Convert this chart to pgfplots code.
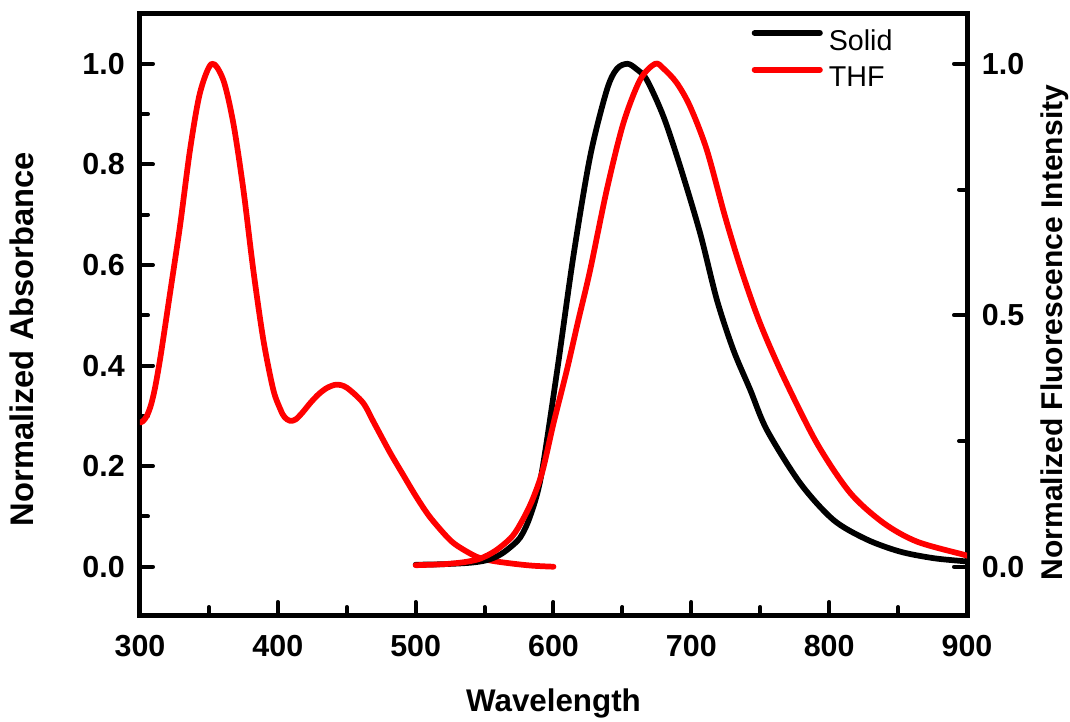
\documentclass[border=0pt]{standalone}
\usepackage{fontspec}
\setmainfont{Liberation Sans}
\usepackage{pgfplots}
\pgfplotsset{compat=1.18}

\pgfplotstableread{
x y
300 0.287
302 0.289
305 0.300
308 0.322
311 0.357
315 0.420
321.8 0.544
329 0.677
336.3 0.829
343.5 0.942
352 1.000
360.4 0.968
367.7 0.882
375 0.750
382.2 0.590
389.5 0.451
396.7 0.352
402 0.312
405 0.297
408.9 0.290
413 0.293
418 0.307
424 0.327
430 0.344
436 0.356
442.7 0.362
450 0.356
461.8 0.326
470 0.285
481.4 0.227
490 0.187
500 0.141
510 0.100
522.5 0.060
530 0.042
544 0.020
555 0.012
570.7 0.006
585 0.002
600 0.000
}\absTHF

\pgfplotstableread{
x y
500 0.004
520 0.005
540 0.008
551.6 0.013
560 0.022
567 0.035
575.8 0.058
583 0.100
591 0.180
602.4 0.385
614.4 0.617
626.6 0.816
638.7 0.948
646 0.990
653.6 1.000
660 0.990
667.7 0.968
679.8 0.895
691.9 0.796
706.4 0.663
718.5 0.531
730.5 0.431
742.7 0.352
754.8 0.272
779 0.166
803.1 0.093
827.4 0.054
851.5 0.030
875.7 0.017
897.5 0.011
900 0.010
}\flSolid

\pgfplotstableread{
x y
500 0.003
520 0.005
535 0.009
546.7 0.016
558 0.032
570 0.060
578 0.095
585 0.135
592 0.190
600 0.285
609.6 0.390
618 0.490
626.6 0.590
638.7 0.750
650.7 0.882
662.8 0.968
673.7 1.000
680 0.990
689.4 0.962
699.1 0.915
711.2 0.829
724.5 0.696
736.5 0.588
749.9 0.484
766.8 0.378
791 0.246
815.2 0.147
839.4 0.087
863.6 0.050
897.5 0.024
900 0.022
}\flTHF

\begin{document}
\begin{tikzpicture}[x=1pt,y=1pt]
\useasboundingbox (-105,-79.5) rectangle (697.5,461.25);
\pgfplotsset{
  common/.style={
    scale only axis, width=620.25pt, height=450.75pt,
    at={(0pt,0pt)}, anchor=south west,
    xmin=300, xmax=900, ymin=-0.096, ymax=1.099,
    axis line style={line width=3.75pt},
    every tick/.style={black, line width=3pt, line cap=round},
    major tick length=9.75pt, minor tick length=6pt,
    tick align=inside,
    /pgf/number format/assume math mode=true,
    ticklabel style={font=\fontsize{22.8}{27}\selectfont\bfseries, inner sep=0pt},
    yticklabel style={/pgf/number format/fixed, /pgf/number format/fixed zerofill, /pgf/number format/precision=1},
    every axis plot/.append style={line width=4.3pt, line join=round, line cap=round},
  }
}
\begin{axis}[common,
  xtick={300,400,...,900}, minor xtick={350,450,...,850},
  xtick pos=bottom,
  ytick={0,0.2,...,1.0}, minor ytick={0.1,0.3,...,0.9},
  ytick pos=left,
  xticklabel style={anchor=north, yshift=-15pt, /pgf/number format/fixed, /pgf/number format/precision=0},
  yticklabel style={anchor=east, xshift=-11.25pt},
  xlabel={\bfseries Wavelength},
  xlabel style={at={(axis description cs:0.5,-0.161)}, anchor=base, font=\fontsize{23.5}{28}\selectfont},
  ylabel={\bfseries Normalized Absorbance},
  ylabel style={at={(axis description cs:-0.1288,0.459)}, anchor=base, font=\fontsize{24.5}{29}\selectfont},
]
\addplot[red, smooth] table[x=x,y=y] {\absTHF};
\end{axis}
\begin{axis}[common,
  axis line style={draw=none},
  xtick=\empty,
  ytick={0,0.5,1.0}, minor ytick={0.25,0.75},
  ytick pos=right,
  yticklabel style={anchor=west, xshift=11pt},
  ylabel={\bfseries Normalized Fluorescence Intensity},
  ylabel style={at={(axis description cs:1.116,0.47)}, anchor=base, font=\fontsize{22.5}{27}\selectfont},
  legend style={draw=none, fill=none, at={(axis description cs:0.7397,0.9755)}, anchor=north west,
    font=\fontsize{21.5}{25}\selectfont, inner sep=0pt, outer sep=0pt,
    nodes={inner sep=0pt, text height=16pt, text depth=5.5pt},
    row sep=6pt, column sep=4.5pt},
  legend cell align=left,
  legend image code/.code={\draw[#1, line width=4.3pt, line cap=round] (0pt,7.5pt) -- (49pt,7.5pt);},
]
\addplot[black, smooth] table[x=x,y=y] {\flSolid};
\addlegendentry{Solid}
\addplot[red, smooth] table[x=x,y=y] {\flTHF};
\addlegendentry{THF}
\end{axis}
\end{tikzpicture}
\end{document}
